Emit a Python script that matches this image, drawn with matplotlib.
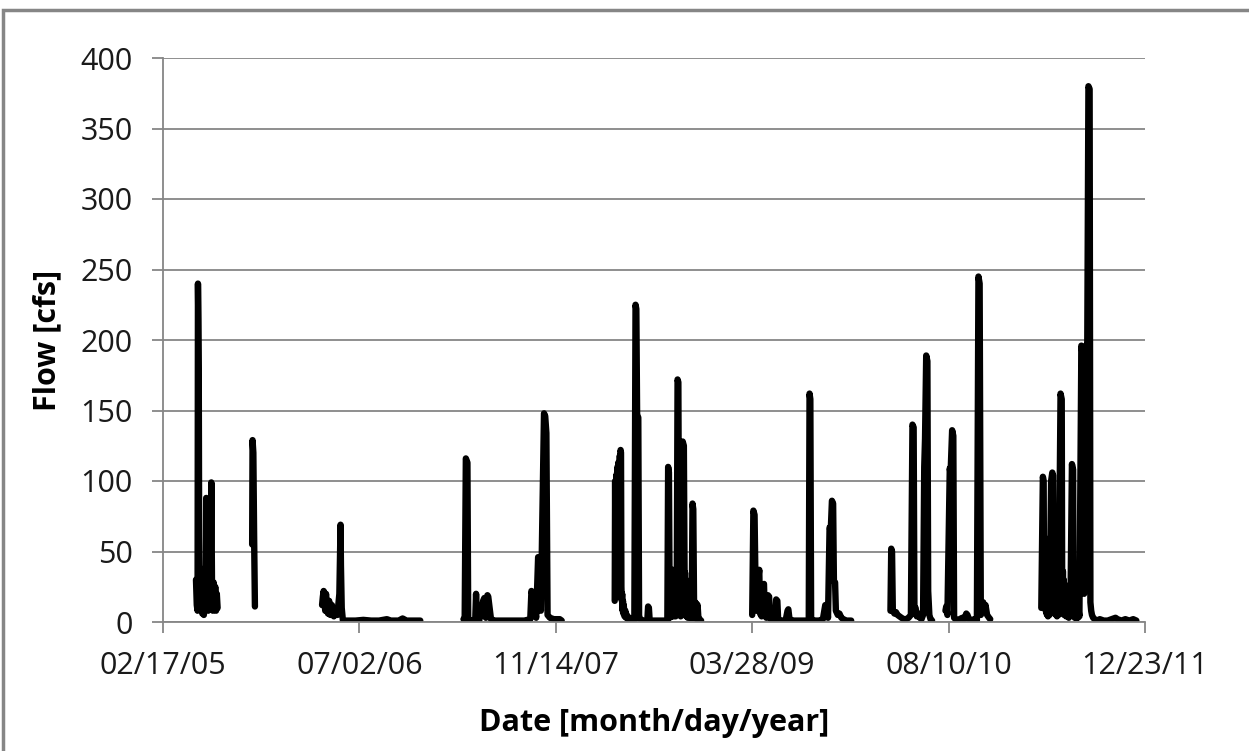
import numpy as np
import pandas as pd
import matplotlib
matplotlib.use('Agg')
import matplotlib.pyplot as plt
import matplotlib.dates as mdates
from matplotlib.patches import Rectangle

start = pd.Timestamp('2005-02-17')

dias_2005a = [84, 86, 88, 89, 90, 91, 92, 93, 94, 96, 97, 99, 100, 102, 104, 106, 107, 109, 110, 111,
              113, 115, 117, 119, 121, 123, 124, 125, 127, 129, 131, 133, 135, 137, 139]
vazao_2005a = [30, 12, 8, 240, 215, 180, 60, 25, 10, 35, 8, 28, 6, 20, 5, 38, 10, 25, 88, 75,
               20, 8, 30, 12, 25, 99, 60, 15, 8, 28, 10, 25, 8, 20, 10]

dias_2005b = [227, 228, 230, 232, 234]
vazao_2005b = [55, 129, 120, 60, 11]

dias_2006 = [405, 407, 409, 411, 413, 415, 417, 420, 423, 426, 430, 435, 440, 444, 447, 449, 452, 453,
             455, 458, 470, 490, 510, 530, 550, 570, 580, 600, 610, 620, 640, 655]
vazao_2006 = [12, 18, 22, 15, 8, 20, 10, 6, 15, 5, 12, 4, 8, 5, 14, 20, 69, 40,
              10, 1, 1, 1, 1.5, 1, 1, 2, 1, 1, 2.5, 1, 1, 1]

dias_2007 = [765, 768, 771, 775, 777, 780, 785, 795, 797, 799, 805, 815, 818, 822, 826, 828, 835, 845,
             860, 880, 900, 920, 935, 938, 940, 950, 955, 958, 962, 970, 973, 976, 979, 985, 995, 1010, 1015]
vazao_2007 = [2, 1, 116, 113, 2, 1, 1, 2, 20, 2, 1, 15, 17, 3, 19, 18, 2, 1,
              1, 1, 1, 1, 2, 22, 20, 3, 46, 45, 8, 148, 146, 134, 5, 3, 2, 2, 1]

dias_2008 = [1150, 1151, 1152, 1153, 1154, 1155, 1156, 1157, 1158, 1159, 1160, 1161, 1162, 1163, 1164,
             1165, 1166, 1167, 1168, 1169, 1170, 1171, 1172, 1173, 1175, 1177, 1179, 1181, 1184, 1188,
             1192, 1196, 1200, 1203, 1205, 1207, 1210, 1212, 1215, 1220, 1228, 1233, 1235, 1237, 1239,
             1250, 1265, 1280, 1284, 1286, 1288, 1290, 1292, 1293, 1294, 1295, 1296, 1297, 1298, 1299,
             1300, 1301, 1302, 1303, 1304, 1305, 1306, 1307, 1308, 1310, 1312, 1314, 1315, 1316, 1317,
             1318, 1319, 1320, 1321, 1323, 1326, 1328, 1329, 1330, 1331, 1332, 1333, 1334, 1335, 1336,
             1338, 1339, 1341, 1343, 1345, 1346, 1348, 1350, 1352, 1353, 1355, 1356, 1358, 1359, 1361,
             1363, 1366, 1370]
vazao_2008 = [15, 100, 20, 98, 18, 105, 20, 110, 18, 113, 20, 112, 25, 118, 22,
              122, 120, 25, 15, 20, 8, 15, 6, 12, 4, 8, 3, 5, 2, 3,
              1, 2, 1, 225, 222, 147, 145, 4, 2, 1, 1, 1, 11, 10, 1,
              1, 1, 1, 1, 110, 106, 3, 37, 5, 36, 4, 35, 5, 37, 4,
              33, 6, 30, 5, 34, 4, 30, 5, 28, 172, 170, 20, 37, 5, 35,
              4, 30, 5, 28, 128, 125, 25, 35, 5, 30, 4, 28, 5, 25, 3,
              20, 4, 15, 3, 10, 3, 84, 80, 12, 3, 14, 3, 13, 2, 12,
              3, 2, 1]

dias_2009 = [1500, 1503, 1506, 1508, 1512, 1515, 1518, 1520, 1524, 1527, 1530, 1532, 1536, 1540, 1543,
             1545, 1550, 1558, 1561, 1564, 1566, 1575, 1585, 1590, 1592, 1595, 1605, 1615, 1625, 1635,
             1644, 1646, 1648, 1650, 1660, 1670, 1680, 1686, 1690, 1693, 1697, 1700, 1703, 1706, 1708,
             1711, 1713, 1718, 1722, 1727, 1732, 1740, 1752]
vazao_2009 = [5, 79, 76, 35, 8, 30, 37, 6, 4, 26, 27, 5, 3, 19, 18,
              3, 1, 2, 16, 15, 2, 1, 1, 8, 9, 2, 1, 1, 1, 1,
              1, 162, 158, 2, 1, 1, 2, 12, 10, 3, 67, 65, 86, 84, 29,
              28, 8, 5, 6, 3, 2, 1, 1]

dias_2010a = [1852, 1854, 1856, 1858, 1862, 1866, 1870, 1875, 1880, 1886, 1892, 1898, 1904, 1908, 1911,
              1913, 1916, 1919, 1923, 1927, 1931, 1935, 1938, 1940, 1943, 1946, 1948, 1951, 1954, 1958]
vazao_2010a = [8, 52, 50, 8, 6, 7, 5, 4, 3, 2, 2, 3, 5, 140, 138,
               8, 10, 4, 6, 3, 2, 5, 110, 130, 189, 185, 22, 5, 2, 1]

dias_2010b = [1992, 1994, 1997, 2003, 2005, 2009, 2012, 2014, 2018, 2022, 2028, 2035, 2040, 2045, 2048,
              2052, 2058, 2065, 2072, 2076, 2079, 2082, 2085, 2088, 2091, 2094, 2098, 2103, 2106]
vazao_2010b = [8, 11, 5, 109, 105, 136, 132, 3, 2, 1, 2, 3, 2, 6, 5,
               2, 1, 2, 1, 245, 240, 5, 11, 14, 8, 12, 5, 3, 2]

dias_2011 = [2236, 2240, 2242, 2243, 2244, 2245, 2246, 2247, 2248, 2249, 2250, 2251, 2252, 2253, 2255,
             2257, 2261, 2264, 2266, 2267, 2268, 2269, 2270, 2271, 2272, 2273, 2274, 2276, 2278, 2280,
             2285, 2288, 2289, 2290, 2291, 2292, 2293, 2294, 2295, 2296, 2298, 2299, 2301, 2302, 2304,
             2306, 2308, 2310, 2314, 2317, 2318, 2319, 2320, 2321, 2322, 2323, 2325, 2326, 2328, 2329,
             2331, 2333, 2338, 2340, 2341, 2342, 2343, 2344, 2345, 2346, 2347, 2348, 2349, 2350, 2352,
             2353, 2356, 2359, 2361, 2363, 2365, 2368, 2372, 2378, 2385, 2395, 2405, 2415, 2425, 2430,
             2440, 2450, 2460, 2470, 2478]
vazao_2011 = [10, 103, 100, 15, 60, 10, 55, 8, 50, 6, 45, 5, 30, 4, 20,
              5, 100, 106, 104, 20, 39, 8, 35, 6, 30, 5, 25, 4, 20, 5,
              162, 158, 38, 10, 36, 8, 30, 5, 27, 6, 25, 4, 20, 5, 15,
              3, 25, 5, 112, 108, 20, 5, 18, 3, 15, 4, 12, 3, 10, 3,
              8, 4, 196, 192, 30, 190, 25, 195, 20, 190, 30, 188, 25, 196, 30,
              194, 380, 378, 14, 8, 5, 3, 2, 1, 2, 1, 1, 2, 3, 2,
              1, 2, 1, 2, 1]

eventos = [(dias_2005a, vazao_2005a), (dias_2005b, vazao_2005b), (dias_2006, vazao_2006),
           (dias_2007, vazao_2007), (dias_2008, vazao_2008), (dias_2009, vazao_2009),
           (dias_2010a, vazao_2010a), (dias_2010b, vazao_2010b), (dias_2011, vazao_2011)]

# Juntar os eventos com NaN entre eles (lacunas sem dados)
dias, vazao = [], []
for d, v in eventos:
    dias += list(d) + [d[-1] + 1]
    vazao += list(v) + [np.nan]
datas = start + pd.to_timedelta(dias, unit='D')

fonte = 'Open Sans'
cinza = '#868686'

fig = plt.figure(figsize=(12.49, 7.51), dpi=100)
ax = fig.add_axes([163 / 1249, 1 - 622 / 751, (1145 - 163) / 1249, (622 - 58) / 751])

ax.plot(datas, vazao, color='black', lw=4.6, solid_capstyle='round', solid_joinstyle='round')

ax.set_ylim(0, 400)
ax.set_yticks(range(0, 401, 50))
ticks_x = pd.date_range(start, periods=6, freq='500D')
ax.set_xlim(ticks_x[0], ticks_x[-1])
ax.set_xticks(ticks_x)
ax.xaxis.set_major_formatter(mdates.DateFormatter('%m/%d/%y'))

ax.grid(axis='y', color=cinza, lw=1.3)
ax.set_axisbelow(True)
for lado in ['top', 'right']:
    ax.spines[lado].set_visible(False)
for lado in ['left', 'bottom']:
    ax.spines[lado].set_color(cinza)
    ax.spines[lado].set_linewidth(1.3)
ax.tick_params(axis='both', direction='out', length=8, width=1.3, color=cinza,
               labelsize=22, labelcolor='#1a1a1a')
ax.tick_params(axis='y', pad=14)
ax.tick_params(axis='x', pad=13)
for rotulo in ax.get_xticklabels() + ax.get_yticklabels():
    rotulo.set_fontfamily(fonte)

ax.set_xlabel('Date [month/day/year]', fontsize=22, fontweight='bold', family=fonte, va='center')
ax.set_ylabel('Flow [cfs]', fontsize=22, fontweight='bold', family=fonte, va='center')
ax.xaxis.set_label_coords(0.5, (622 - 723) / 564)
ax.yaxis.set_label_coords((47 - 163) / 982, 0.5)

# Borda da área do gráfico (cortada à direita e embaixo)
fig.patches.append(Rectangle((3 / 1249, -0.1), 1.2, 1 - 10 / 751 + 0.1, transform=fig.transFigure,
                             fill=False, edgecolor=cinza, lw=2.5))

fig.savefig('out.png', dpi=100)
